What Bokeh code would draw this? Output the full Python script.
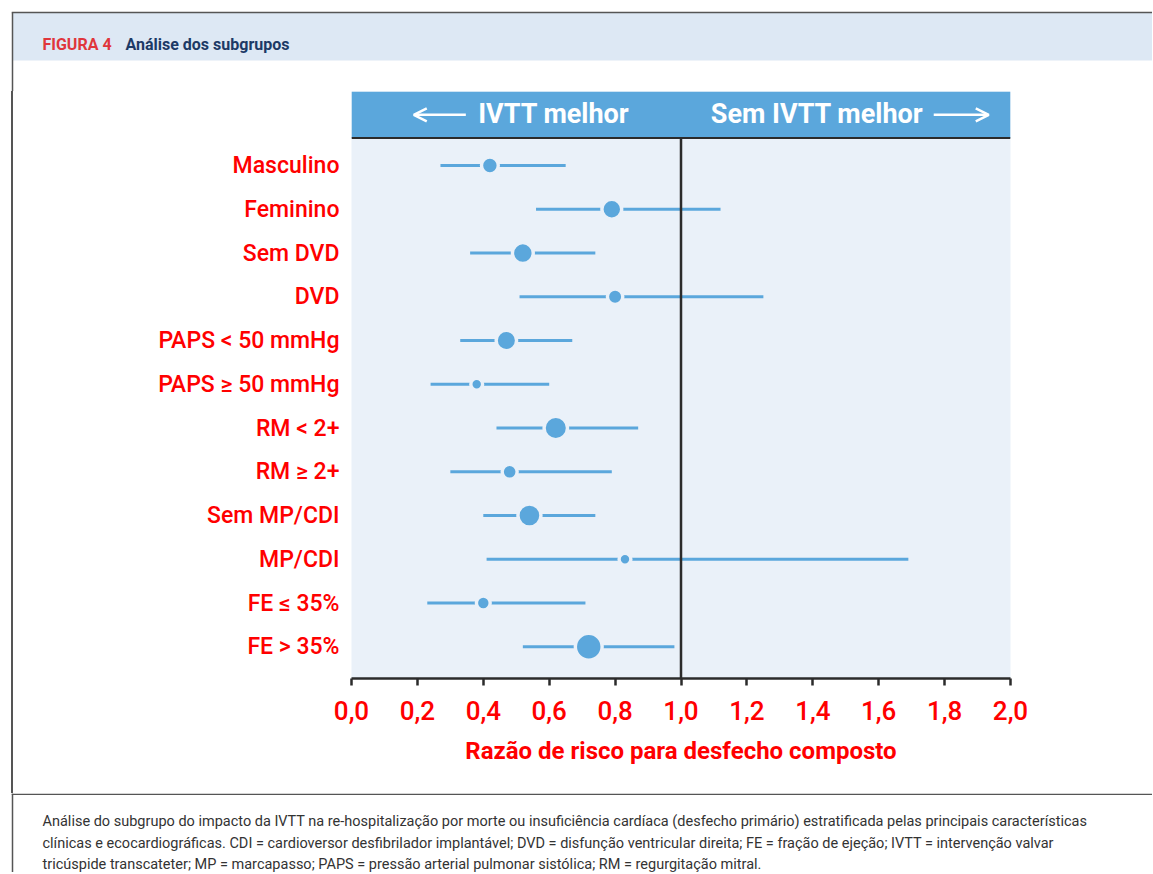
from bokeh.plotting import figure
from bokeh.layouts import column, row
from bokeh.models import Range1d, FixedTicker, Arrow, OpenHead, ColumnDataSource, Div
from bokeh.core.properties import value
from bokeh.embed import file_html
from bokeh.resources import INLINE

# ---------------- data ----------------
subgrupos = ["Masculino", "Feminino", "Sem DVD", "DVD", "PAPS < 50 mmHg", "PAPS ≥ 50 mmHg",
             "RM < 2+", "RM ≥ 2+", "Sem MP/CDI", "MP/CDI", "FE ≤ 35%", "FE > 35%"]
razao_risco = [0.42, 0.79, 0.52, 0.80, 0.47, 0.38, 0.62, 0.48, 0.54, 0.83, 0.40, 0.72]
ic_inferior = [0.27, 0.56, 0.36, 0.51, 0.33, 0.24, 0.44, 0.30, 0.40, 0.41, 0.23, 0.52]
ic_superior = [0.65, 1.12, 0.74, 1.25, 0.67, 0.60, 0.87, 0.79, 0.74, 1.69, 0.71, 0.98]
peso_relativo = [6.7, 8.2, 8.7, 6.0, 8.5, 4.2, 10.0, 5.8, 9.8, 4.2, 5.2, 11.7]

x_ticks = [0.0, 0.2, 0.4, 0.6, 0.8, 1.0, 1.2, 1.4, 1.6, 1.8, 2.0]
x_tick_labels = ["0,0", "0,2", "0,4", "0,6", "0,8", "1,0", "1,2", "1,4", "1,6", "1,8", "2,0"]

titulo_num = "FIGURA 4"
titulo = "Análise dos subgrupos"
x_titulo = "Razão de risco para desfecho composto"
cab_esq = "IVTT melhor"
cab_dir = "Sem IVTT melhor"
legenda = [
    "Análise do subgrupo do impacto da IVTT na re-hospitalização por morte ou insuficiência cardíaca (desfecho primário) estratificada pelas principais características",
    "clínicas e ecocardiográficas. CDI = cardioversor desfibrilador implantável; DVD = disfunção ventricular direita; FE = fração de ejeção; IVTT = intervenção valvar",
    "tricúspide transcateter; MP = marcapasso; PAPS = pressão arterial pulmonar sistólica; RM = regurgitação mitral.",
]

# ---------------- style ----------------
RED = "#ff0000"
BLUE = "#5ba7dc"
BG = "#eaf1f9"
DARK = "#2b2b2b"
BORDER = "#555555"
BAND = "#dde8f4"
FONT = "Roboto"
FONT_MED = "Roboto Medium"

W = 1152
TOP_H = 91          # page rows 0..91
MID_H = 702         # page rows 91..793
BOT_H = 79          # page rows 793..872
STRIP_W = 14


def deco_figure(w, h, y0=0):
    f = figure(width=w, height=h, output_backend="svg", toolbar_location=None,
               x_range=Range1d(0, w), y_range=Range1d(y0 + h, y0),
               min_border=0, min_border_left=0, min_border_right=0,
               min_border_top=0, min_border_bottom=0)
    f.axis.visible = False
    f.grid.visible = False
    f.outline_line_color = None
    f.background_fill_color = "white"
    f.border_fill_color = "white"
    return f


# ---- top: title band ----
top = deco_figure(W, TOP_H)
top.quad(left=[12], right=[W], top=[12], bottom=[60], fill_color=BAND, line_color=None)
top.segment(x0=[11.25], x1=[W], y0=[12], y1=[12], line_color=BORDER, line_width=1.5)
top.segment(x0=[12], x1=[12], y0=[12], y1=[TOP_H], line_color=BORDER, line_width=1.5)
top.text(x=[42], y=[43.5], text=[titulo_num], text_font=value(FONT), text_font_style="bold",
         text_font_size="16px", text_color="#e0363c", text_baseline="alphabetic")
top.text(x=[125], y=[43.5], text=[titulo], text_font=value(FONT), text_font_style="bold",
         text_font_size="16px", text_color="#1c3a66", text_baseline="alphabetic")

# ---- left strip (border line) ----
strip = Div(text="", width=STRIP_W, height=MID_H,
            styles={"background": "linear-gradient(to right, #ffffff 0px, #ffffff 11.25px, "
                                  "#555555 11.25px, #555555 12.75px, #ffffff 12.75px)",
                    "margin": "0", "padding": "0"})

# ---- main chart ----
rows = list(range(len(subgrupos)))
halo = 3.4
src = ColumnDataSource(dict(
    row=rows, hr=razao_risco, lo=ic_inferior, hi=ic_superior,
    sz=[2 * p + halo for p in peso_relativo],
))

Y_TOP, Y_BOT, Y_HDR = -1.692, 11.725, -0.629

p = figure(width=W - STRIP_W, height=MID_H, output_backend="svg", toolbar_location=None,
           x_range=Range1d(0, 2), y_range=Range1d(Y_BOT, Y_TOP),
           min_border_left=351 - STRIP_W, min_border_right=W - 1010,
           min_border_top=0, min_border_bottom=MID_H - 587)
p.background_fill_color = BG
p.border_fill_color = "white"
p.outline_line_color = None
p.grid.visible = False

p.segment(x0="lo", x1="hi", y0="row", y1="row", source=src, line_color=BLUE, line_width=3)
p.scatter(x="hr", y="row", size="sz", source=src, marker="circle",
          fill_color=BLUE, line_color=BG, line_width=halo)

p.segment(x0=[1.0], x1=[1.0], y0=[Y_HDR], y1=[Y_BOT], line_color=DARK, line_width=2.5)

p.quad(left=[0], right=[2], top=[Y_TOP], bottom=[Y_HDR], fill_color=BLUE, line_color=None)
p.segment(x0=[0], x1=[2], y0=[Y_HDR], y1=[Y_HDR], line_color=DARK, line_width=2)
p.text(x=[0.614, 1.413], y=[-1.17, -1.17], text=[cab_esq, cab_dir], text_font=value(FONT),
       text_font_style="bold", text_font_size="27px", text_color="white",
       text_align="center", text_baseline="middle")
for xs, xe in [(0.347, 0.189), (1.767, 1.934)]:
    p.add_layout(Arrow(x_start=xs, y_start=-1.16, x_end=xe, y_end=-1.16,
                       end=OpenHead(size=13, line_color="white", line_width=2.5),
                       line_color="white", line_width=2.5))

xa = p.xaxis[0]
xa.ticker = FixedTicker(ticks=x_ticks)
xa.major_label_overrides = dict(zip(x_ticks, x_tick_labels))
xa.minor_tick_line_color = None
xa.major_tick_in = 0
xa.major_tick_out = 7
xa.major_tick_line_width = 2.5
xa.major_tick_line_color = DARK
xa.axis_line_width = 2.5
xa.axis_line_color = DARK
xa.major_label_text_font = FONT_MED
xa.major_label_text_font_size = "26px"
xa.major_label_text_color = RED
xa.major_label_standoff = 15
xa.axis_label = x_titulo
xa.axis_label_text_font = FONT
xa.axis_label_text_font_style = "bold"
xa.axis_label_text_font_size = "24px"
xa.axis_label_text_color = RED
xa.axis_label_standoff = 14

ya = p.yaxis[0]
ya.ticker = FixedTicker(ticks=rows)
ya.major_label_overrides = {i: s for i, s in zip(rows, subgrupos)}
ya.minor_tick_line_color = None
ya.major_tick_line_color = None
ya.axis_line_color = None
ya.major_label_text_font = FONT_MED
ya.major_label_text_font_size = "23px"
ya.major_label_text_color = RED
ya.major_label_standoff = 6

# ---- bottom: caption ----
bot = deco_figure(W, BOT_H, y0=793)
bot.segment(x0=[11.25], x1=[W], y0=[793.75], y1=[793.75], line_color=BORDER, line_width=1.5)
bot.segment(x0=[12], x1=[12], y0=[793], y1=[793 + BOT_H], line_color=BORDER, line_width=1.5)
bot.text(x=[42, 42, 42], y=[821, 843, 864], text=legenda, text_font=value(FONT),
         text_font_size="14.5px", text_color="#333333", text_baseline="alphabetic")

layout = column(top, row(strip, p), bot)
open("out.html", "w").write(file_html(layout, INLINE))
